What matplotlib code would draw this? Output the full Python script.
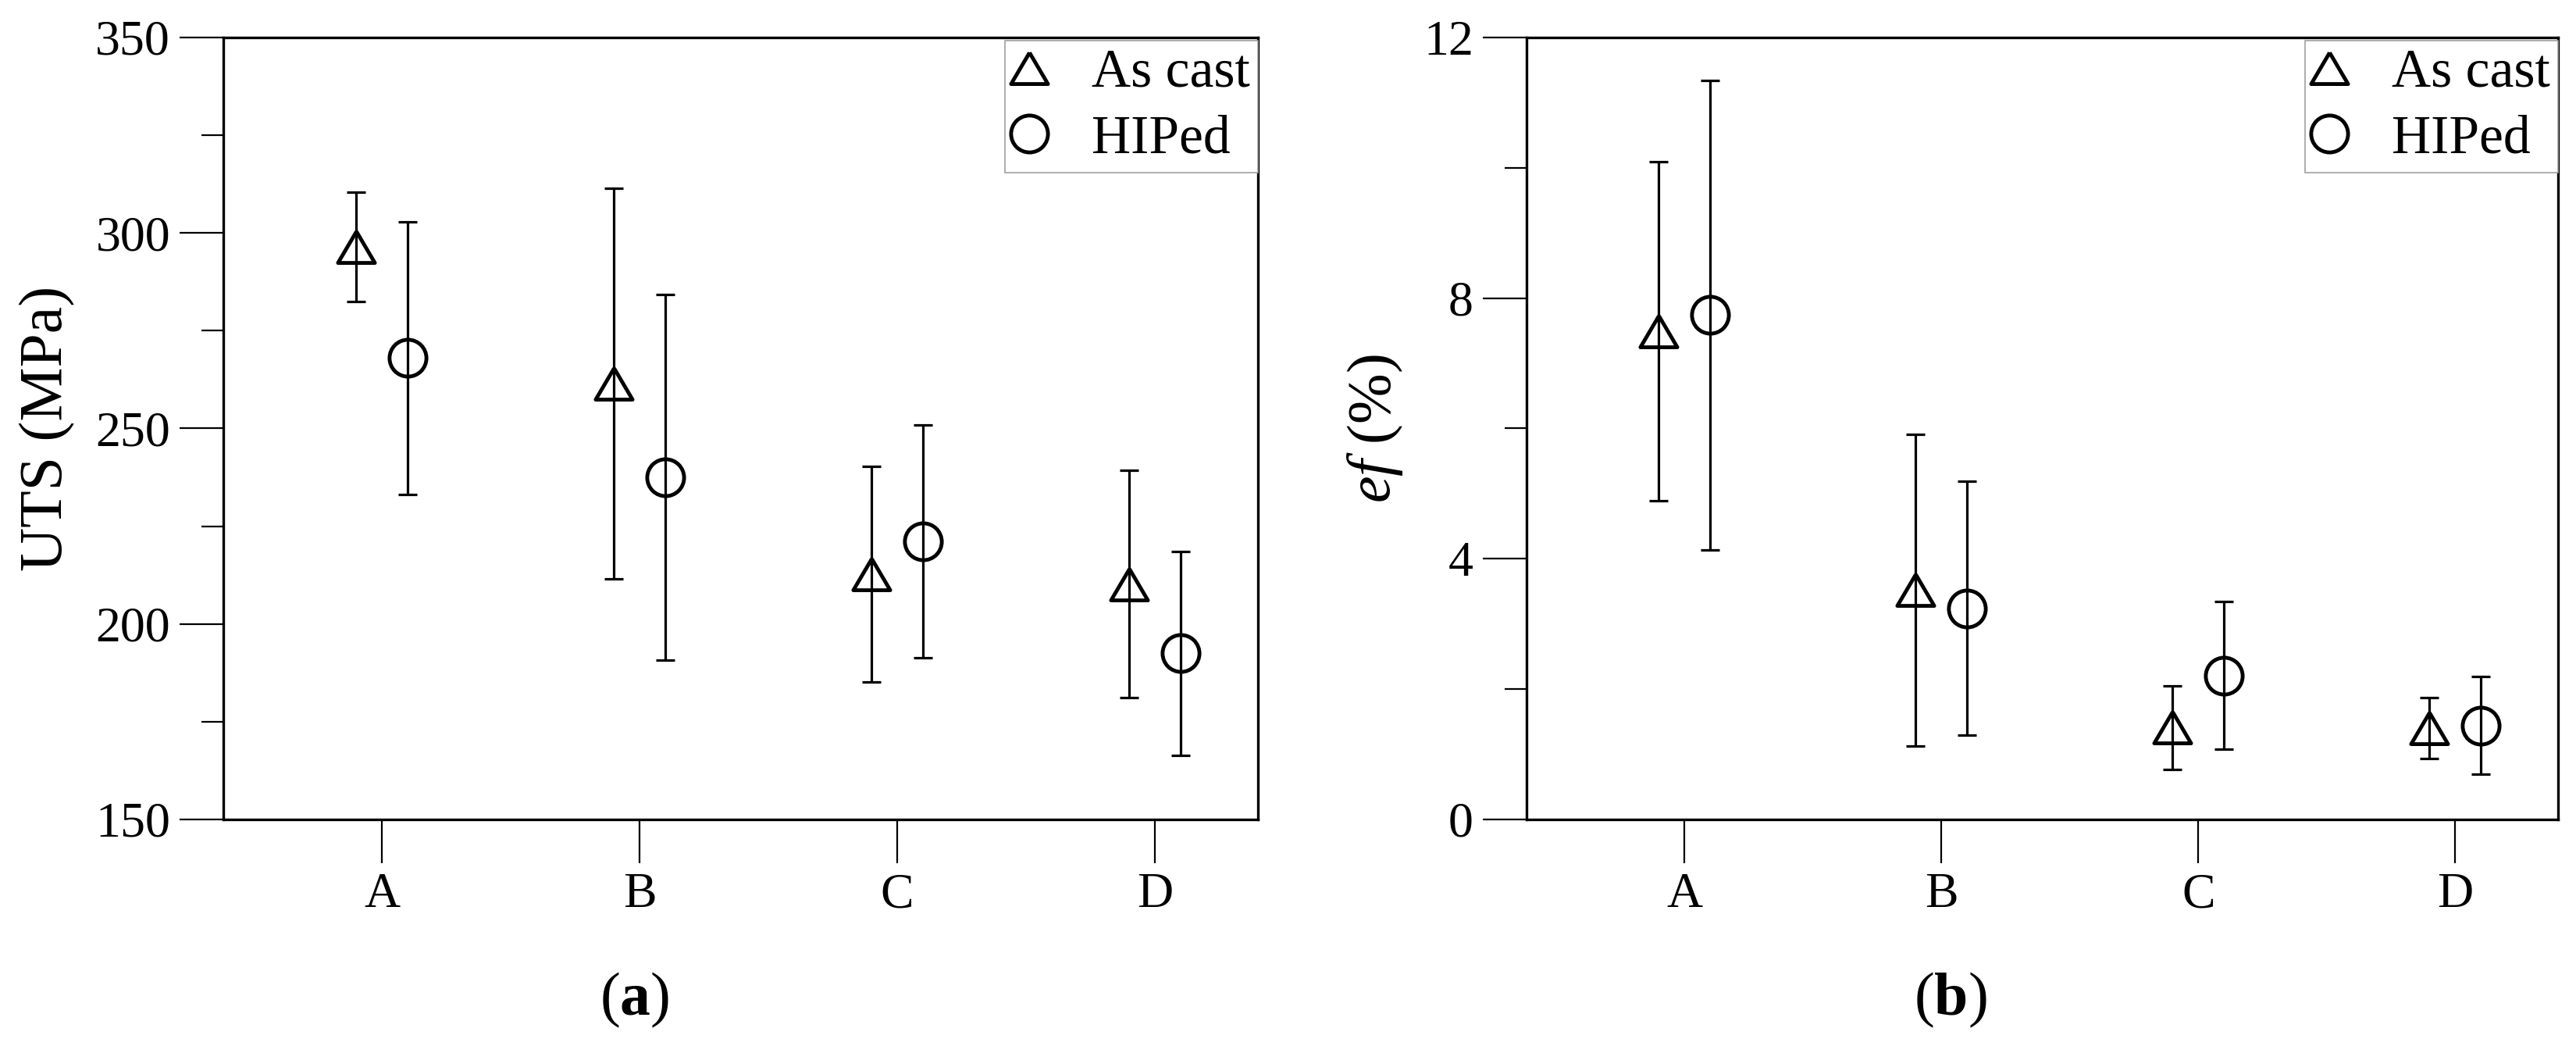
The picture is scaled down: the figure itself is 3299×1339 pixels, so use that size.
import matplotlib.pyplot as plt
from matplotlib.lines import Line2D
from matplotlib.ticker import MultipleLocator
import numpy as np

plt.rcParams['font.family'] = ['Liberation Serif', 'DejaVu Serif']
plt.rcParams['mathtext.fontset'] = 'custom'
plt.rcParams['mathtext.rm'] = 'Liberation Serif'
plt.rcParams['mathtext.it'] = 'Liberation Serif:italic'
plt.rcParams['mathtext.bf'] = 'Liberation Serif:bold'

# data
alloys = ['A', 'B', 'C', 'D']
uts_cast = [296.5, 261.5, 212.8, 210.2]
uts_cast_err = [14.0, 50.0, 27.6, 29.1]
uts_hip = [268.0, 237.5, 221.1, 192.5]
uts_hip_err = [34.8, 46.8, 29.7, 26.1]
ef_cast = [7.49, 3.52, 1.41, 1.40]
ef_cast_err = [2.60, 2.39, 0.64, 0.47]
ef_hip = [7.74, 3.24, 2.21, 1.44]
ef_hip_err = [3.60, 1.95, 1.13, 0.75]

tri = [(0, 0.85), (-1, -0.85), (1, -0.85), (0, 0.85)]  # slightly flat triangle
ms = 34
x = np.arange(1, len(alloys) + 1)
off = 0.1

fig = plt.figure(figsize=(32.99, 13.39), dpi=100)
ax1 = fig.add_axes([0.0867, 0.2166, 0.4016, 0.7476])
ax2 = fig.add_axes([0.5926, 0.2166, 0.4004, 0.7476])


def panel(ax, cast, cast_err, hip, hip_err, ylim, major, minor, ylabel, labx):
    kw = dict(fmt='none', ecolor='black', elinewidth=2.3, capsize=8.5, capthick=2.3)
    ax.errorbar(x - off, cast, yerr=cast_err, **kw)
    ax.errorbar(x + off, hip, yerr=hip_err, **kw)
    ax.plot(x - off, cast, linestyle='none', marker=tri, ms=ms, mfc='none', mec='black', mew=3.5)
    ax.plot(x + off, hip, linestyle='none', marker='o', ms=ms, mfc='none', mec='black', mew=3.5)
    ax.set_xlim(0.385, 4.4)
    ax.set_ylim(*ylim)
    ax.set_xticks(x)
    ax.set_xticklabels(alloys)
    ax.yaxis.set_major_locator(MultipleLocator(major))
    ax.yaxis.set_minor_locator(MultipleLocator(minor))
    ax.tick_params(axis='both', which='major', direction='out', length=40, width=1.6,
                   labelsize=46, pad=9)
    ax.tick_params(axis='y', which='minor', direction='out', length=20, width=1.6)
    ax.tick_params(axis='x', which='minor', bottom=False)
    for s in ax.spines.values():
        s.set_linewidth(2.4)
    ax.set_ylabel(ylabel, fontsize=56)
    ax.yaxis.set_label_coords(labx, 0.5)
    handles = [Line2D([], [], linestyle='none', marker=tri, ms=ms, mfc='none', mec='black', mew=3.5),
               Line2D([], [], linestyle='none', marker='o', ms=ms, mfc='none', mec='black', mew=3.5)]
    leg = ax.legend(handles, ['As cast', 'HIPed'], loc='upper right', bbox_to_anchor=(1.0, 0.996),
                    borderaxespad=0, fontsize=50, frameon=True, fancybox=False, framealpha=1,
                    edgecolor='#a0a0a0', borderpad=0.15, labelspacing=0.3, handlelength=0.6,
                    handletextpad=0.85, numpoints=1)
    leg.get_frame().set_linewidth(1.2)


panel(ax1, uts_cast, uts_cast_err, uts_hip, uts_hip_err, (150, 350), 50, 25, 'UTS (MPa)', -0.143)
panel(ax2, ef_cast, ef_cast_err, ef_hip, ef_hip_err, (0, 12), 4, 2, r'$\mathit{ef}$ (%)', -0.118)

fig.text(0.2464, 0.044, r'($\mathbf{a}$)', fontsize=56, ha='center', va='center')
fig.text(0.757, 0.044, r'($\mathbf{b}$)', fontsize=56, ha='center', va='center')

fig.savefig('out.png', dpi=100)
